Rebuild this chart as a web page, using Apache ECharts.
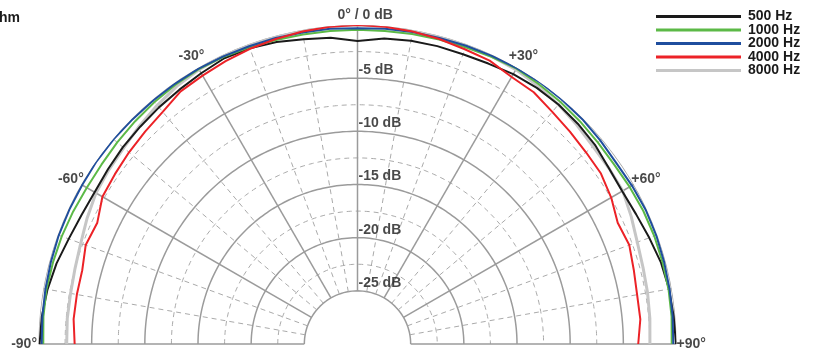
<!DOCTYPE html>
<html><head><meta charset="utf-8">
<script src="https://cdn.jsdelivr.net/npm/echarts@6/dist/echarts.min.js"></script>
<style>html,body{margin:0;padding:0;background:#fff}#c{width:813px;height:351px}</style>
</head><body><div id="c"></div>
<script>
// ---- data ----
const angles = [-90,-85,-80,-75,-70,-65,-60,-55,-50,-45,-40,-35,-30,-25,-20,-15,-10,-5,0,5,10,15,20,25,30,35,40,45,50,55,60,65,70,75,80,85,90];
const hz500  = [-0.1,-0.2,-0.4,-0.7,-1.1,-1.35,-1.45,-1.35,-1.2,-1.1,-0.95,-0.8,-0.6,-0.35,-0.4,-0.6,-0.9,-1.1,-1.5,-1.15,-1.05,-1.0,-1.0,-0.9,-0.7,-0.6,-0.6,-0.7,-0.85,-1.15,-1.25,-1.1,-0.8,-0.45,-0.25,-0.15,-0.05];
const hz1000 = [-0.45,-0.35,-0.3,-0.35,-0.4,-0.5,-0.6,-0.6,-0.5,-0.4,-0.3,-0.2,-0.15,-0.2,-0.3,-0.4,-0.45,-0.45,-0.45,-0.45,-0.4,-0.35,-0.3,-0.2,-0.1,-0.2,-0.3,-0.4,-0.5,-0.55,-0.45,-0.35,-0.3,-0.3,-0.3,-0.35,-0.45];
const hz2000 = [-0.3,-0.25,-0.2,-0.15,-0.1,-0.1,-0.1,-0.05,-0.05,-0.1,-0.1,-0.1,-0.1,-0.15,-0.2,-0.2,-0.25,-0.25,-0.3,-0.25,-0.2,-0.2,-0.15,-0.1,-0.05,0,-0.05,-0.1,-0.2,-0.3,-0.2,-0.1,-0.1,-0.15,-0.2,-0.25,-0.3];
const hz4000 = [-3.4,-3.2,-3.2,-3.2,-2.8,-3.0,-2.3,-2.15,-1.95,-1.75,-1.5,-1.0,-0.85,-0.65,-0.45,-0.3,-0.15,-0.05,0,-0.05,-0.15,-0.3,-0.5,-0.6,-1.0,-1.1,-1.5,-1.75,-1.95,-2.05,-2.45,-3.0,-2.8,-3.1,-3.3,-3.3,-3.6];
const hz8000 = [-2.65,-2.6,-2.6,-2.5,-2.3,-1.95,-1.6,-1.45,-1.3,-1.0,-0.7,-0.4,-0.2,-0.1,-0.05,0,0,0,0,0,0,-0.05,-0.1,-0.15,-0.2,-0.4,-0.6,-0.85,-1.1,-1.15,-1.2,-1.6,-2.0,-2.2,-2.3,-2.4,-2.5];
const seriesNames = ['500 Hz','1000 Hz','2000 Hz','4000 Hz','8000 Hz'];
const dbSolid = [-25,-20,-15,-10,-5,0];
const dbDashed = [-22.5,-17.5,-12.5,-7.5,-2.5];
const spokeSolid = [-90,-60,-30,0,30,60,90];
const spokeDashed = [-80,-70,-50,-40,-20,-10,10,20,40,50,70,80];
const dbLabelTicks = [-5,-10,-15,-20,-25];
const angleLabelTicks = [-90,-60,-30,0,30,60,90];
const angleLabels = ['-90°','-60°','-30°','0° / 0 dB','+30°','+60°','+90°'];
const cornerText = 'hm';

// ---- build ----
const FONT = '"Liberation Sans", Arial, Helvetica, sans-serif';
const TXT = '#1a1a1a';
const RMIN = -30, RHOLE = -25;
function arc(r){ const d=[]; for(let a=-90;a<=90;a+=0.5) d.push([r,a]); return d; }
const gridSeries = [];
dbSolid.forEach(r=>gridSeries.push({type:'line',coordinateSystem:'polar',data:arc(r),symbol:'none',silent:true,animation:false,lineStyle:{color:'#9b9b9b',width:1.5},z:1}));
dbDashed.forEach(r=>gridSeries.push({type:'line',coordinateSystem:'polar',data:arc(r),symbol:'none',silent:true,animation:false,lineStyle:{color:'#aaaaaa',width:1,type:[5,4]},z:1}));
spokeSolid.forEach(a=>gridSeries.push({type:'line',coordinateSystem:'polar',data:[[RHOLE,a],[0,a]],symbol:'none',silent:true,animation:false,lineStyle:{color:'#9b9b9b',width:1.5},z:1}));
spokeDashed.forEach(a=>gridSeries.push({type:'line',coordinateSystem:'polar',data:[[RHOLE,a],[0,a]],symbol:'none',silent:true,animation:false,lineStyle:{color:'#aaaaaa',width:1,type:[5,4]},z:1}));

const values = {'500 Hz':hz500,'1000 Hz':hz1000,'2000 Hz':hz2000,'4000 Hz':hz4000,'8000 Hz':hz8000};
const styles = {'500 Hz':{c:'#1a1a1a',w:2},'1000 Hz':{c:'#5cb947',w:2},'2000 Hz':{c:'#1f4e9e',w:2},'4000 Hz':{c:'#ec2227',w:2},'8000 Hz':{c:'#c6c6c6',w:3}};
const drawOrder = ['8000 Hz','500 Hz','1000 Hz','2000 Hz','4000 Hz'];
const dataSeries = drawOrder.map((n,i)=>({
  name:n,type:'line',coordinateSystem:'polar',symbol:'none',animation:false,
  data:angles.map((a,k)=>[values[n][k],a]),
  lineStyle:{color:styles[n].c,width:styles[n].w},itemStyle:{color:styles[n].c},z:3+i
}));

const labelFont = {fontFamily:FONT,fontSize:14,fontWeight:'bold',color:TXT};
const dbLabelSeries = {
  type:'scatter',coordinateSystem:'polar',symbolSize:1,silent:true,animation:false,
  itemStyle:{color:'rgba(0,0,0,0)'},z:10,
  data:dbLabelTicks.map(v=>[v,0]),
  label:Object.assign({show:true,position:[1.5,-7.5],align:'left',verticalAlign:'middle',formatter:p=>p.value[0]+' dB'},labelFont)
};
const angleOffsets = {'-90':[-1,0.5,'right'],'-60':[3,-4.5,'right'],'-30':[-6,-11,'center'],'0':[-19.5,-9,'left'],'30':[7,-10.7,'center'],'60':[-2,-4.5,'left'],'90':[0.5,1,'left']};
const angleLabelSeries = {
  type:'scatter',coordinateSystem:'polar',symbolSize:1,silent:true,animation:false,
  itemStyle:{color:'rgba(0,0,0,0)'},z:10,
  data:angleLabelTicks.map((a,i)=>{const o=angleOffsets[String(a)];return {value:[0,a],label:{position:[o[0],o[1]],align:o[2],formatter:angleLabels[i]}};}),
  label:Object.assign({show:true,verticalAlign:'middle'},labelFont)
};

const chart = echarts.init(document.getElementById('c'),null,{renderer:'canvas'});
chart.setOption({
  backgroundColor:'#fff',
  animation:false,
  polar:{center:[357.5,344],radius:319},
  angleAxis:{type:'value',min:-180,max:180,startAngle:270,clockwise:true,
    axisLine:{show:false},axisTick:{show:false},axisLabel:{show:false},splitLine:{show:false}},
  radiusAxis:{type:'value',min:RMIN,max:0,
    axisLine:{show:false},axisTick:{show:false},axisLabel:{show:false},splitLine:{show:false}},
  legend:{orient:'vertical',left:651,top:4.5,itemWidth:85,itemHeight:3,icon:'rect',itemGap:-0.5,
    data:seriesNames,selectedMode:false,
    textStyle:{fontFamily:FONT,fontSize:14,fontWeight:'bold',color:TXT,lineHeight:13,padding:[0,0,0,2]}},
  graphic:[{type:'text',left:-1,top:11,style:{text:cornerText,font:'bold 14px '+FONT,fill:TXT}}],
  series:[...gridSeries,...dataSeries,dbLabelSeries,angleLabelSeries]
});
</script></body></html>
